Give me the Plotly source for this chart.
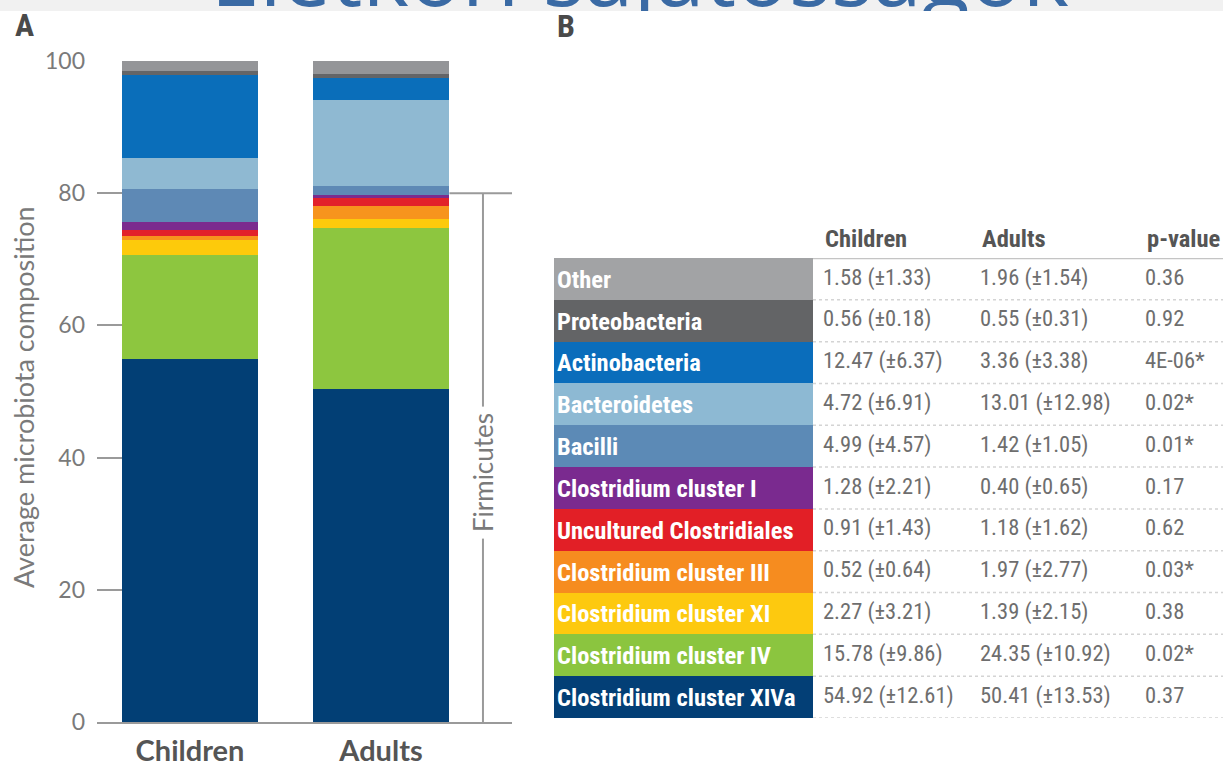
import plotly.graph_objects as go

# ---- data -------------------------------------------------------------
# taxa listed top-to-bottom as in the table (bars stack in reverse order)
taxa = [
    "Other", "Proteobacteria", "Actinobacteria", "Bacteroidetes", "Bacilli",
    "Clostridium cluster I", "Uncultured Clostridiales", "Clostridium cluster III",
    "Clostridium cluster XI", "Clostridium cluster IV", "Clostridium cluster XIVa",
]
children_mean = [1.58, 0.56, 12.47, 4.72, 4.99, 1.28, 0.91, 0.52, 2.27, 15.78, 54.92]
children_sd = [1.33, 0.18, 6.37, 6.91, 4.57, 2.21, 1.43, 0.64, 3.21, 9.86, 12.61]
adults_mean = [1.96, 0.55, 3.36, 13.01, 1.42, 0.40, 1.18, 1.97, 1.39, 24.35, 50.41]
adults_sd = [1.54, 0.31, 3.38, 12.98, 1.05, 0.65, 1.62, 2.77, 2.15, 10.92, 13.53]
p_values = ["0.36", "0.92", "4E-06*", "0.02*", "0.01*", "0.17", "0.62", "0.03*",
            "0.38", "0.02*", "0.37"]
groups = ["Children", "Adults"]
table_headers = ["Children", "Adults", "p-value"]
y_ticks = [0, 20, 40, 60, 80, 100]

colors = ["#949598", "#646567", "#0a6eba", "#8fb9d2", "#5e89b5", "#7b2b8e",
          "#e2222a", "#f7941d", "#fdca0b", "#8dc63f", "#023f75"]
label_fill = ["#a2a3a5", "#636466", "#0a6dbb", "#8db9d3", "#5c8ab6", "#7a2a8f",
              "#e21f26", "#f68c1f", "#fdc90f", "#8bc53f", "#033f76"]

# ---- page geometry (pixels of a 1223 x 763 page) -----------------------
W, H = 1223, 763
NARROW = "Liberation Sans Narrow, Roboto Condensed, Arial Narrow, sans-serif"
LIGHT = "Lato, Open Sans, sans-serif"
GREY_TXT = "#7a7a7a"
VALUE_TXT = "#6e6e6e"
AXIS_GREY = "#9a9a9a"


def px_x(p):
    return p / W


def px_y(p):
    return 1 - p / H


bar_width = 0.717
x_left, x_right = -0.487, 1.686      # plot range in category units
bracket_x = 1.534                    # Firmicutes bracket position

# table panel: x in pixel offsets from its left edge, y in row index
table_left, table_top, table_bottom = 554, 258, 718
table_span = W - table_left
label_w = 259
col_x = [269, 426, 591]              # left edges of the value columns
rows = list(range(len(taxa)))

fig = go.Figure()

# stacked bars, bottom segment first
for i in reversed(rows):
    fig.add_trace(go.Bar(
        x=[0, 1], y=[children_mean[i], adults_mean[i]],
        name=taxa[i], width=bar_width,
        marker=dict(color=colors[i], line=dict(width=0)),
        showlegend=False, hoverinfo="skip",
    ))


def fmt(m, s):
    return f"{m:.2f} (\u00b1{s:.2f})"


table_children = [fmt(m, s) for m, s in zip(children_mean, children_sd)]
table_adults = [fmt(m, s) for m, s in zip(adults_mean, adults_sd)]

# coloured label cells of the table
fig.add_trace(go.Bar(
    y=rows, x=[label_w] * len(rows), base=0, orientation="h", width=1,
    marker=dict(color=label_fill, line=dict(width=0)),
    text=[f"<b>{t}</b>" for t in taxa], textposition="inside",
    insidetextanchor="start", textangle=0, constraintext="none",
    textfont=dict(family=NARROW, size=24.5, color="white"),
    xaxis="x2", yaxis="y2", showlegend=False, hoverinfo="skip",
))

# value columns
for cx, col in zip(col_x, [table_children, table_adults, p_values]):
    fig.add_trace(go.Scatter(
        x=[cx] * len(rows), y=rows, mode="text", text=col,
        textposition="middle right", cliponaxis=False,
        textfont=dict(family=NARROW, size=22.5, color=VALUE_TXT),
        xaxis="x2", yaxis="y2", showlegend=False, hoverinfo="skip",
    ))

# title strip text, clipped to the strip
title_baseline_px = 10
fig.add_trace(go.Scatter(
    x=[0.523], y=[(11 - (title_baseline_px - 0.3 * 88)) / 11], mode="text",
    text=["Életkori sajátosságok"], textposition="middle center", cliponaxis=True,
    textfont=dict(family="Open Sans, sans-serif", size=88, color="#3a6aa4"),
    xaxis="x3", yaxis="y3", showlegend=False, hoverinfo="skip",
))

shapes = [
    # title strip background
    dict(type="rect", xref="paper", yref="paper", x0=0, x1=1, y0=px_y(11), y1=1,
         fillcolor="#f1f1f1", line=dict(width=0), layer="below"),
    # Firmicutes bracket
    dict(type="line", xref="x", yref="y", x0=1 + bar_width / 2, x1=x_right, y0=80, y1=80,
         line=dict(color=AXIS_GREY, width=2)),
    dict(type="line", xref="x", yref="y", x0=bracket_x, x1=bracket_x, y0=0, y1=80,
         line=dict(color=AXIS_GREY, width=2)),
    # header rule of the table
    dict(type="line", xref="x2", yref="y2", x0=label_w, x1=table_span,
         y0=-0.5, y1=-0.5, line=dict(color="#c4c4c4", width=2.5)),
]
# dotted row separators in the value columns
for r in rows:
    shapes.append(dict(type="line", xref="x2", yref="y2",
                       x0=label_w, x1=table_span, y0=r + 0.5, y1=r + 0.5,
                       line=dict(color="#d4d4d4", width=1.5, dash="dot")))

annotations = [
    dict(text="Average microbiota composition", xref="paper", yref="paper",
         x=px_x(23), y=px_y(397), xanchor="center", yanchor="middle",
         textangle=-90, showarrow=False,
         font=dict(family=LIGHT, size=27, color=GREY_TXT)),
    dict(text="Firmicutes", xref="x", yref="y", x=bracket_x, y=37.8,
         xanchor="center", yanchor="middle", textangle=-90, showarrow=False,
         bgcolor="white", borderpad=6,
         font=dict(family=LIGHT, size=26, color=GREY_TXT)),
    dict(text="<b>A</b>", xref="paper", yref="paper", x=px_x(24), y=px_y(25),
         xanchor="center", yanchor="middle", showarrow=False,
         font=dict(family=NARROW, size=32, color="#4a4a4a")),
    dict(text="<b>B</b>", xref="paper", yref="paper", x=px_x(566), y=px_y(26),
         xanchor="center", yanchor="middle", showarrow=False,
         font=dict(family=NARROW, size=32, color="#4a4a4a")),
]
# column headers of the table
for cx, head in zip(col_x, table_headers):
    annotations.append(dict(
        text=f"<b>{head}</b>", xref="x2", yref="paper", x=cx, y=px_y(239),
        xanchor="left", yanchor="middle", showarrow=False,
        font=dict(family=NARROW, size=24.5, color="#555555")))

fig.update_layout(
    template="none",
    width=W, height=H, margin=dict(l=0, r=0, t=0, b=0, autoexpand=False),
    paper_bgcolor="white", plot_bgcolor="rgba(0,0,0,0)",
    barmode="stack", bargap=0,
    xaxis=dict(domain=[px_x(97), px_x(512)], range=[x_left, x_right],
               tickvals=[0, 1], ticktext=[f"<b>{g}</b>" for g in groups],
               tickfont=dict(family=LIGHT, size=29, color="#555555"),
               showline=True, linecolor=AXIS_GREY, linewidth=2,
               ticks="", showgrid=False, zeroline=False, fixedrange=True,
               automargin=False, ticklabelstandoff=2),
    yaxis=dict(domain=[px_y(722), px_y(61)], range=[0, 100], tickvals=y_ticks,
               ticks="inside", ticklen=25, tickwidth=2, tickcolor=AXIS_GREY,
               tickfont=dict(family=LIGHT, size=23, color=GREY_TXT),
               showline=False, showgrid=False, zeroline=False, fixedrange=True,
               automargin=False, ticklabelstandoff=11),
    xaxis2=dict(domain=[px_x(table_left), 1], range=[0, table_span], visible=False,
                fixedrange=True, anchor="y2", automargin=False),
    yaxis2=dict(domain=[px_y(table_bottom), px_y(table_top)], range=[len(taxa) - 0.5, -0.5],
                visible=False, fixedrange=True, anchor="x2", automargin=False),
    xaxis3=dict(domain=[0, 1], range=[0, 1], visible=False, fixedrange=True,
                anchor="y3", automargin=False),
    yaxis3=dict(domain=[px_y(11), 1], range=[0, 1], visible=False, fixedrange=True,
                anchor="x3", automargin=False),
    shapes=shapes, annotations=annotations,
)

fig.write_html("out.html")
